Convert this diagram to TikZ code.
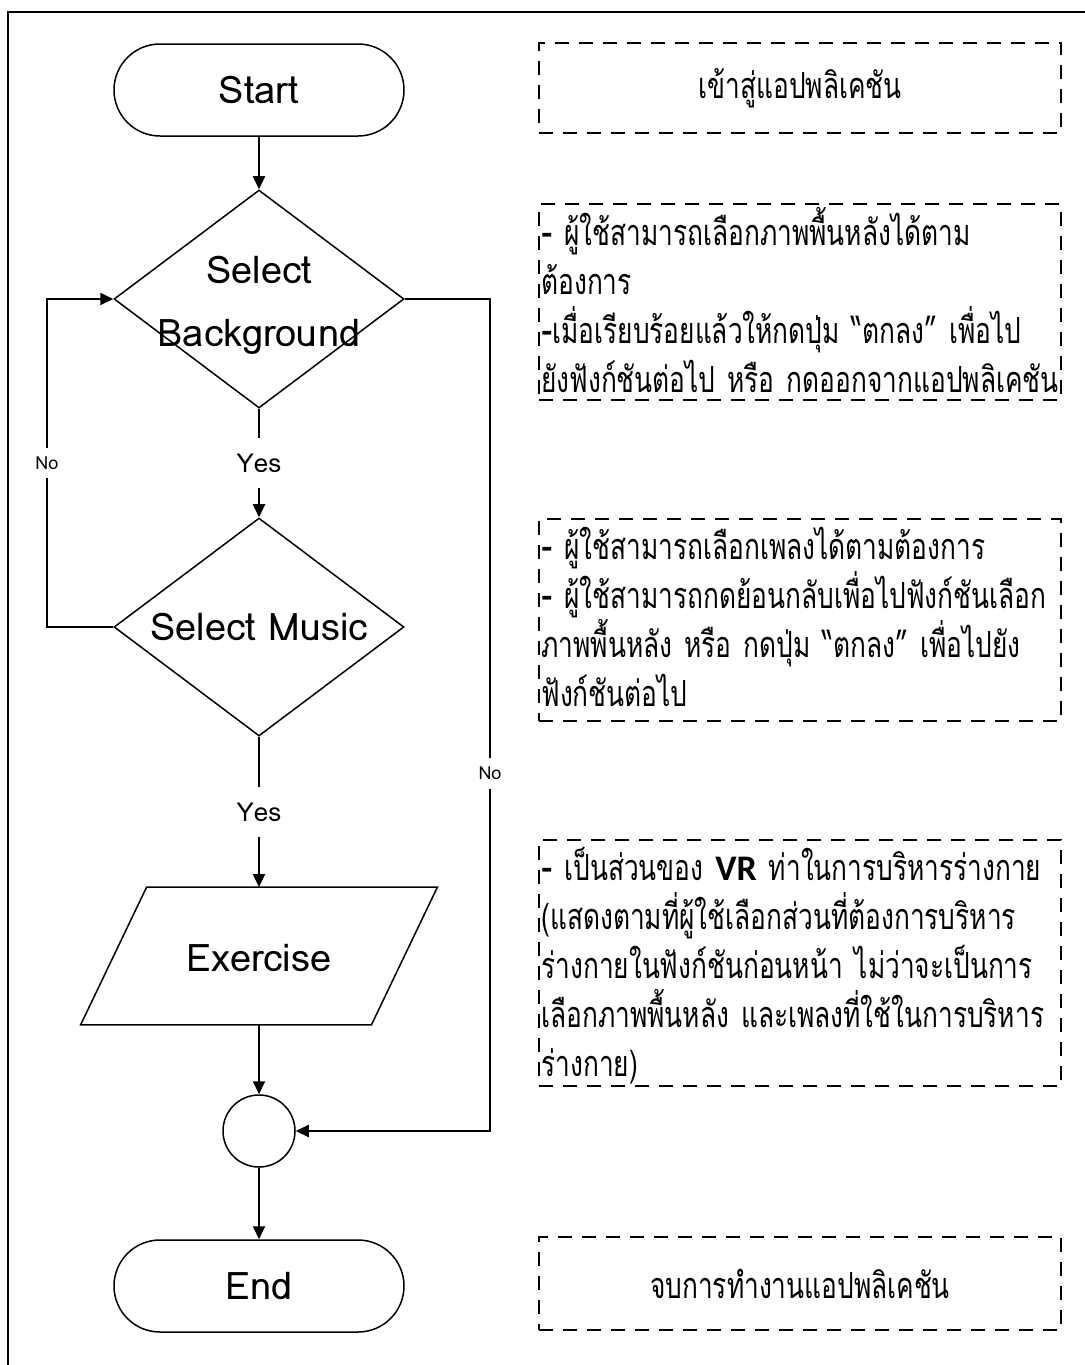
\documentclass[tikz,border=0pt]{standalone}
\usepackage{fontspec}
\setmainfont[Script=Thai]{Loma}
\newfontfamily\narrowthai[Script=Thai, FakeStretch=0.73]{Loma}
\newfontfamily\vrfont{Carlito}
\newcommand\bdash{{\vrfont\bfseries -}}
\usetikzlibrary{shapes.geometric,arrows.meta}

\begin{document}
\begin{tikzpicture}[x=0.5pt, y=-0.5pt,
  every node/.style={inner sep=0pt},
  outline/.style={draw, line width=0.75pt},
  terminal/.style={outline, rectangle, rounded corners=23pt, minimum width=145pt, minimum height=46pt},
  decision/.style={outline, diamond, minimum width=145pt, minimum height=109pt},
  ioframe/.style={rectangle, minimum width=145pt, minimum height=68.5pt},
  joint/.style={outline, circle, minimum size=36pt},
  big/.style={font=\fontsize{19}{31.5}\selectfont, align=center},
  yeslbl/.style={fill=white, inner xsep=2pt, inner ysep=8pt, font=\fontsize{13}{15}\selectfont},
  nolbl/.style={fill=white, inner xsep=1pt, inner ysep=4.5pt, font=\fontsize{9}{11}\selectfont},
  flow/.style={line width=0.9pt, -{Triangle[length=6.5pt,width=6pt]}},
  note/.style={draw, line width=0.85pt, dash pattern=on 7pt off 5pt, rectangle, minimum width=261pt},
  notefont/.style={font=\narrowthai\fontsize{18}{24.5}\selectfont},
  notetext/.style={notefont, text width=400pt, align=left, anchor=base west},
]
\useasboundingbox (0,0) rectangle (1085,1365);

% outer frame
\draw[line width=1pt] (8,1365) -- (8,12) -- (1085,12);

% flowchart shapes
\node[terminal, big] (start) at (259,90) {Start};
\node[decision] (d1) at (259,299) {};
\node[big] (d1lbl) at ([yshift=-3pt]d1.center) {Select\\Background};
\node[decision] (d2) at (259,627) {};
\node[big] (d2lbl) at (d2) {Select Music};
\node[ioframe] (ex) at (259,956) {};
\draw[outline] ([xshift=16.5pt]ex.north west) -- ([xshift=16.5pt]ex.north east)
  -- ([xshift=-16.5pt]ex.south east) -- ([xshift=-16.5pt]ex.south west) -- cycle;
\node[big] (exlbl) at ([yshift=-1pt]ex.center) {Exercise};
\node[joint] (jn) at (259,1131) {};
\node[terminal, big] (end) at (259,1286) {End};

% connectors
\coordinate (lx) at (47,0);
\coordinate (rx) at (490,0);
\draw[flow] (start) -- (d1);
\draw[flow] (d1) -- node[yeslbl] {Yes} (d2);
\draw[flow] (d2) -- node[yeslbl] {Yes} (ex);
\draw[flow] (ex) -- (jn);
\draw[flow] (jn) -- (end);
\draw[flow] (d2.west) -- (d2.west -| lx) -- node[nolbl, pos=0.5] {No} (d1.west -| lx) -- (d1.west);
\draw[flow] (d1.east) -- (d1.east -| rx) -- node[nolbl, pos=0.57] {No} (jn.east -| rx) -- (jn.east);

% description boxes
\node[note, minimum height=45pt, notefont] (n1) at (800,88) {เข้าสู่แอปพลิเคชัน};

\node[note, minimum height=98pt] (n2) at (800,302) {};
\node[notetext] (t2) at (541,245) {\bdash{} ผู้ใช้สามารถเลือกภาพพื้นหลังได้ตาม\\
ต้องการ\\
\bdash เมื่อเรียบร้อยแล้วให้กดปุ่ม “ตกลง” เพื่อไป\\
ยังฟังก์ชันต่อไป หรือ กดออกจากแอปพลิเคชัน};

\node[note, minimum height=101pt] (n3) at (800,620) {};
\node[notetext] (t3) at (541,559) {\bdash{} ผู้ใช้สามารถเลือกเพลงได้ตามต้องการ\\
\bdash{} ผู้ใช้สามารถกดย้อนกลับเพื่อไปฟังก์ชันเลือก\\
ภาพพื้นหลัง หรือ กดปุ่ม “ตกลง” เพื่อไปยัง\\
ฟังก์ชันต่อไป};

\node[note, minimum height=123pt] (n4) at (800,963) {};
\node[notetext] (t4) at (541,880) {\bdash{} เป็นส่วนของ {\vrfont\bfseries VR} ท่าในการบริหารร่างกาย\\
(แสดงตามที่ผู้ใช้เลือกส่วนที่ต้องการบริหาร\\
ร่างกายในฟังก์ชันก่อนหน้า ไม่ว่าจะเป็นการ\\
เลือกภาพพื้นหลัง และเพลงที่ใช้ในการบริหาร\\
ร่างกาย)};

\node[note, minimum height=46.5pt, notefont] (n5) at (800,1283.5) {จบการทำงานแอปพลิเคชัน};
\end{tikzpicture}
\end{document}
